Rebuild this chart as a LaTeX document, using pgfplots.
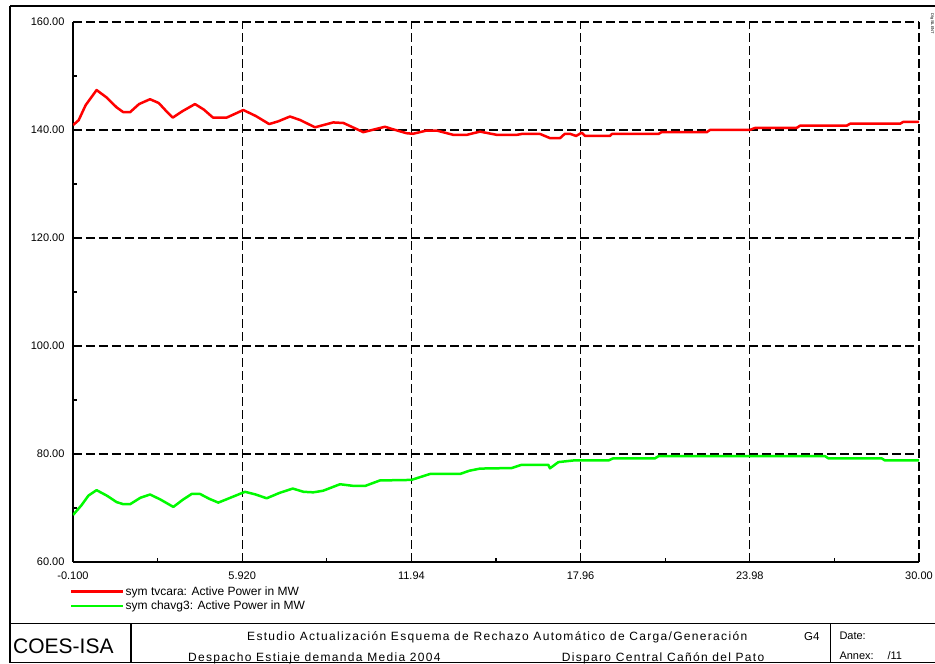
\documentclass[border=0pt]{standalone}
\usepackage{fontspec}
\setmainfont{Liberation Sans}
\newfontfamily\spacedfont[LetterSpace=11]{Liberation Sans}
\usepackage{pgfplots}
\usepackage{pgfplotstable}
\pgfplotsset{compat=1.18}
\definecolor{cred}{RGB}{255,0,0}
\definecolor{cgreen}{RGB}{0,250,0}

\pgfplotstableread{
x y
-0.10 140.9
0.10 141.8
0.35 144.6
0.74 147.4
1.10 146.0
1.45 144.2
1.69 143.3
1.93 143.3
2.25 144.8
2.64 145.7
2.95 145.0
3.20 143.6
3.45 142.3
3.80 143.5
4.24 144.8
4.55 143.8
4.88 142.3
5.37 142.3
5.96 143.7
6.40 142.6
6.88 141.1
7.20 141.6
7.62 142.5
7.98 141.85
8.51 140.5
9.16 141.4
9.52 141.3
10.23 139.6
11.00 140.6
11.24 140.2
11.77 139.4
12.00 139.3
12.48 139.9
12.84 139.9
13.43 139.1
13.91 139.1
14.38 139.7
14.98 139.1
15.69 139.1
15.86 139.26
16.52 139.26
16.87 138.5
17.23 138.5
17.40 139.3
17.58 139.3
17.80 138.9
18.00 139.5
18.12 138.9
19.00 138.9
19.07 139.26
20.73 139.26
20.84 139.6
22.45 139.6
22.56 140.0
23.98 140.0
24.16 140.37
25.64 140.37
25.77 140.8
27.43 140.8
27.55 141.17
29.33 141.17
29.44 141.5
30.00 141.5
}\redtable

\pgfplotstableread{
x y
-0.10 68.7
0.20 70.5
0.45 72.3
0.74 73.3
1.10 72.3
1.45 71.1
1.69 70.7
1.93 70.7
2.30 71.9
2.64 72.5
3.00 71.6
3.47 70.2
3.80 71.5
4.12 72.6
4.42 72.6
4.75 71.7
5.07 71.0
5.50 71.9
6.02 73.0
6.40 72.5
6.79 71.8
7.25 72.8
7.72 73.6
8.10 73.0
8.45 72.9
8.80 73.2
9.40 74.4
9.87 74.1
10.30 74.1
10.82 75.1
11.94 75.2
12.30 75.8
12.60 76.3
13.67 76.3
14.00 76.9
14.38 77.3
15.51 77.4
15.86 78.0
16.81 78.0
16.87 77.35
17.17 78.5
17.70 78.8
18.95 78.8
19.12 79.2
20.61 79.2
20.73 79.6
26.66 79.6
26.77 79.2
28.67 79.2
28.79 78.8
30.00 78.8
}\greentable

\begin{document}
\begin{tikzpicture}[x=1pt,y=1pt]
\useasboundingbox (0,0) rectangle (935,664);
\begin{axis}[
  at={(73pt,102pt)}, anchor=south west,
  scale only axis, width=846pt, height=540pt,
  xmin=-0.1, xmax=30, ymin=60, ymax=160,
  axis lines=left,
  axis line style={-, line width=1.8pt, black},
  xtick={-0.1,5.92,11.94,17.96,23.98,30},
  xticklabels={-0.100,5.920,11.94,17.96,23.98,30.00},
  ytick={60,80,100,120,140,160},
  yticklabels={60.00,80.00,100.00,120.00,140.00,160.00},
  minor xtick={2.91,8.93,14.95,20.97,26.99},
  minor ytick={70,90,110,130,150},
  tick align=inside,
  major tick length=0pt,
  minor tick length=4pt,
  minor tick style={line width=1.2pt, black},
  grid=major,
  major grid style={black, line width=1.2pt, dash pattern=on 9pt off 4pt},
  ticklabel style={font=\fontsize{11}{13}\selectfont},
  /pgf/number format/assume math mode=true,
  xticklabel shift=6pt,
  yticklabel shift=5pt,
  legend style={at={(axis description cs:-0.0035,-0.043)}, anchor=north west,
    draw=none, fill=none, font=\fontsize{12}{14}\selectfont,
    row sep=2.5pt, inner sep=0pt, nodes={inner sep=1pt}},
  legend cell align=left,
  legend image code/.code={\path (0pt,0pt) -- (52pt,0pt);\draw[#1,line width=2pt,overlay] (0pt,0pt) -- (47pt,0pt);},
]
\addplot[cred, line width=2.5pt, line join=round] table[x=x,y=y] {\redtable};
\addlegendentry{sym tvcara: Active Power in MW}
\addplot[cgreen, line width=2.5pt, line join=round] table[x=x,y=y] {\greentable};
\addlegendentry{sym chavg3: Active Power in MW}
\node[anchor=base, inner sep=0pt, font=\fontsize{11}{13}\selectfont] at (axis cs:27.05,60) [yshift=-17pt] {[s]};
\end{axis}
% frame and title block
\draw[line width=1.5pt] (10,658) -- (940,658);
\draw[line width=1.5pt] (10,658) -- (10,1.3) -- (940,1.3);
\draw[line width=1.5pt] (10,40.5) -- (940,40.5);
\draw[line width=1.5pt] (131,40.5) -- (131,1.3);
\draw[line width=1.5pt] (830.7,40.5) -- (830.7,1.3);
\node[anchor=base west, inner sep=0pt, font=\fontsize{21}{21}\selectfont] at (13,10.7) {COES-ISA};
\node[anchor=base west, inner sep=0pt, font=\spacedfont\fontsize{12}{14}\selectfont] at (247,23) {Estudio Actualización Esquema de Rechazo Automático de Carga/Generación};
\node[anchor=base west, inner sep=0pt, font=\spacedfont\fontsize{12}{14}\selectfont] at (188,2.5) {Despacho Estiaje demanda Media 2004};
\node[anchor=base west, inner sep=0pt, font=\spacedfont\fontsize{12}{14}\selectfont] at (561.7,2.5) {Disparo Central Cañón del Pato};
\node[anchor=base west, inner sep=0pt, font=\fontsize{11.5}{13}\selectfont] at (804,23) {G4};
\node[anchor=base west, inner sep=0pt, font=\fontsize{11}{13}\selectfont] at (839.3,24.7) {Date:};
\node[anchor=base west, inner sep=0pt, font=\fontsize{11}{13}\selectfont] at (839.3,4.7) {Annex:};
\node[anchor=base west, inner sep=0pt, font=\fontsize{11}{13}\selectfont] at (887.3,4.7) {/11};
\node[anchor=north, rotate=-90, inner sep=0pt, font=\fontsize{4}{4}\selectfont] at (934,640) {DIgSILENT};
\end{tikzpicture}
\end{document}
